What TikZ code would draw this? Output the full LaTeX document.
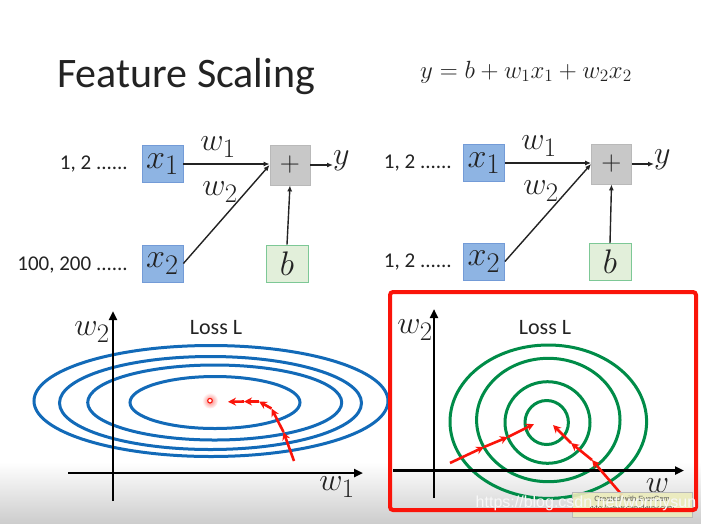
\documentclass[tikz,border=0pt]{standalone}
\usepackage{graphicx}
\usepackage{fontspec}
\setmainfont{Carlito}
\newfontfamily\wmfont{Liberation Sans}
\usetikzlibrary{arrows.meta}
\newcommand\mysc[2]{\scalebox{#1}{$#2$}}
\definecolor{txt}{RGB}{35,35,35}
\definecolor{inFill}{RGB}{142,180,227}
\definecolor{inDraw}{RGB}{115,155,215}
\definecolor{plusFill}{RGB}{200,200,200}
\definecolor{plusDraw}{RGB}{185,185,185}
\definecolor{bFill}{RGB}{226,239,218}
\definecolor{bDraw}{RGB}{125,200,150}
\definecolor{blueL}{RGB}{18,106,184}
\definecolor{greenL}{RGB}{0,140,72}
\definecolor{redA}{RGB}{250,20,10}
\definecolor{bandGray}{RGB}{205,205,205}
\definecolor{evFill}{RGB}{236,236,188}
\definecolor{wmCol}{RGB}{248,248,248}
\begin{document}
\begin{tikzpicture}[x=1pt,y=-1pt,
  conn/.style={line width=1.4pt, draw=txt, -{Latex[length=6pt,width=5pt]}},
  inbox/.style={draw=inDraw, fill=inFill, line width=0.8pt, minimum width=41pt, minimum height=37pt, inner sep=0pt, font=\Huge, text=txt},
  plusbox/.style={draw=plusDraw, fill=plusFill, line width=0.8pt, minimum width=40pt, minimum height=40pt, inner sep=0pt, font=\Huge, text=txt},
  bbox/.style={draw=bDraw, fill=bFill, line width=0.8pt, minimum width=42pt, minimum height=37pt, inner sep=0pt, font=\Huge, text=txt},
  lbl/.style={inner sep=0pt, font=\Huge, text=txt},
  seq/.style={anchor=east, inner sep=0pt, font=\fontsize{21}{22}\selectfont, text=txt},
  losslbl/.style={inner sep=0pt, font=\fontsize{22}{23}\selectfont, text=txt},
  axis/.style={line width=2.5pt, draw=black, -{Triangle[length=9pt,width=8pt]}},
  ring/.style={line width=3pt},
  redarr/.style={line width=2.6pt, draw=redA, -{Stealth[length=8pt,width=8pt]}},
]
\useasboundingbox (0,0) rectangle (701,523);
\fill[white] (0,0) rectangle (701,523);
\shade[top color=white, bottom color=bandGray] (0,462) rectangle (701,523);

% title and formula
\node[anchor=base west, inner sep=0pt, font=\fontsize{42}{44}\selectfont, text=txt] (title) at (57,87) {Feature Scaling};
\node[inner sep=0pt, text=txt, font=\huge] (eq) at (526,72) {\mysc{1.2}{y=b+w_1x_1+w_2x_2}};

% ---------- left network ----------
\node[inbox] (x1L) at (162.5,164) {\mysc{1.37}{x_1}};
\node[inbox] (x2L) at (162.5,263.5) {\mysc{1.37}{x_2}};
\node[plusbox] (pL) at (290,165) {\mysc{1.12}{+}};
\node[bbox] (bL) at (287,263.5) {\mysc{1.37}{b}};
\node[lbl, anchor=west] (yL) at (333,161) {\mysc{1.29}{y}};
\node[lbl] (w1L) at (218,147) {\mysc{1.29}{w_1}};
\node[lbl] (w2L) at (220,192) {\mysc{1.29}{w_2}};
\node[seq] (s1L) at (128,164) {1, 2 ......};
\node[seq] (s2L) at (128,265) {100, 200 ......};
\draw[conn] (x1L.east) -- (x1L.east -| pL.west);
\draw[conn] (x2L.east) -- (pL.west);
\draw[conn] (bL.north) -- (pL.south);
\draw[conn] (pL.east) -- (yL.west |- pL.east);

% ---------- right network ----------
\node[inbox] (x1R) at (484,163) {\mysc{1.37}{x_1}};
\node[inbox] (x2R) at (484,261.5) {\mysc{1.37}{x_2}};
\node[plusbox] (pR) at (611.5,164) {\mysc{1.12}{+}};
\node[bbox] (bR) at (610,262) {\mysc{1.37}{b}};
\node[lbl, anchor=west] (yR) at (654,160) {\mysc{1.29}{y}};
\node[lbl] (w1R) at (539,146) {\mysc{1.29}{w_1}};
\node[lbl] (w2R) at (541,191) {\mysc{1.29}{w_2}};
\node[seq] (s1R) at (452,163) {1, 2 ......};
\node[seq] (s2R) at (452,262) {1, 2 ......};
\draw[conn] (x1R.east) -- (x1R.east -| pR.west);
\draw[conn] (x2R.east) -- (pR.west);
\draw[conn] (bR.north) -- (pR.south);
\draw[conn] (pR.east) -- (yR.west |- pR.east);

% ---------- left loss plot ----------
\draw[ring, blueL] (211,401) ellipse [x radius=177, y radius=55.5];
\draw[ring, blueL] (210.5,403) ellipse [x radius=151, y radius=46.5];
\draw[ring, blueL] (214.7,402.5) ellipse [x radius=127, y radius=37.5];
\draw[ring, blueL] (215,402.5) ellipse [x radius=85, y radius=26];
\coordinate (yaL0) at (113,501);
\coordinate (yaL1) at (113,311);
\coordinate (xaL0) at (68,473);
\coordinate (xaL1) at (363,473);
\draw[axis] (yaL0) -- (yaL1);
\draw[axis] (xaL0) -- (xaL1);
\node[lbl] (w2axL) at (92,332) {\mysc{1.29}{w_2}};
\node[lbl] (w1axL) at (337,487) {\mysc{1.29}{w_1}};
\node[losslbl] (lossL) at (216,328) {Loss L};
% minimum
\shade[inner color=redA!55, outer color=white] (210,400.7) circle (8);
\draw[redA, line width=1.1pt, fill=white] (210,400.7) circle (2.3);
\coordinate (a0) at (294,461);
\coordinate (a1) at (283.5,432);
\coordinate (a2) at (271.5,408.5);
\coordinate (a3) at (259,401.5);
\coordinate (a4) at (244,401.5);
\coordinate (a5) at (228,401.8);
\draw[redarr] (a0) -- (a1);
\draw[redarr] (a1) -- (a2);
\draw[redarr] (a2) -- (a3);
\draw[redarr] (a3) -- (a4);
\draw[redarr] (a4) -- (a5);

% ---------- right loss plot ----------
\draw[ring, greenL] (548.3,421.7) ellipse [x radius=98.3, y radius=76.7];
\draw[ring, greenL] (548.3,420) ellipse [x radius=71.7, y radius=61.7];
\draw[ring, greenL] (547.5,422.5) ellipse [x radius=42.5, y radius=40.8];
\draw[ring, greenL] (546.7,422.5) ellipse [x radius=21.7, y radius=22];
\coordinate (yaR0) at (434,498);
\coordinate (yaR1) at (434,309);
\coordinate (xaR0) at (393,470.5);
\coordinate (xaR1) at (684,470.5);
\draw[axis] (yaR0) -- (yaR1);
\draw[axis] (xaR0) -- (xaR1);
\node[lbl] (w2axR) at (415,330) {\mysc{1.29}{w_2}};
\node[lbl] (w1axR) at (657.5,486) {\mysc{1.29}{w}};
\node[losslbl] (lossR) at (545,328) {Loss L};
\coordinate (b0) at (450,463);
\coordinate (b1) at (484,447);
\coordinate (b2) at (508,437);
\coordinate (b3) at (534,424);
\draw[redarr] (b0) -- (b1);
\draw[redarr] (b1) -- (b2);
\draw[redarr] (b2) -- (b3);
\coordinate (c0) at (622,495);
\coordinate (c1) at (592,460);
\coordinate (c2) at (571,443);
\coordinate (c3) at (553,425);
\draw[redarr] (c0) -- (c1);
\draw[redarr] (c1) -- (c2);
\draw[redarr] (c2) -- (c3);

% EverCam stamp
\node[draw=gray!55, fill=evFill, fill opacity=0.9, text opacity=1, minimum width=120pt, minimum height=25pt, inner sep=1pt, align=center, font=\fontsize{7.5}{9}\selectfont\wmfont, text=gray!70!black] (stamp) at (632,504.5) {Created with EverCam\\http://www.camdemy.com};

% red highlight frame
\draw[redA, line width=4pt, rounded corners=3pt] (390,292) rectangle (696,510);

% csdn watermark
\node[inner sep=0pt, font=\fontsize{16}{18}\selectfont\wmfont, text=wmCol] (wm) at (586,503) {https://blog.csdn.net/wormysun};
\end{tikzpicture}
\end{document}
